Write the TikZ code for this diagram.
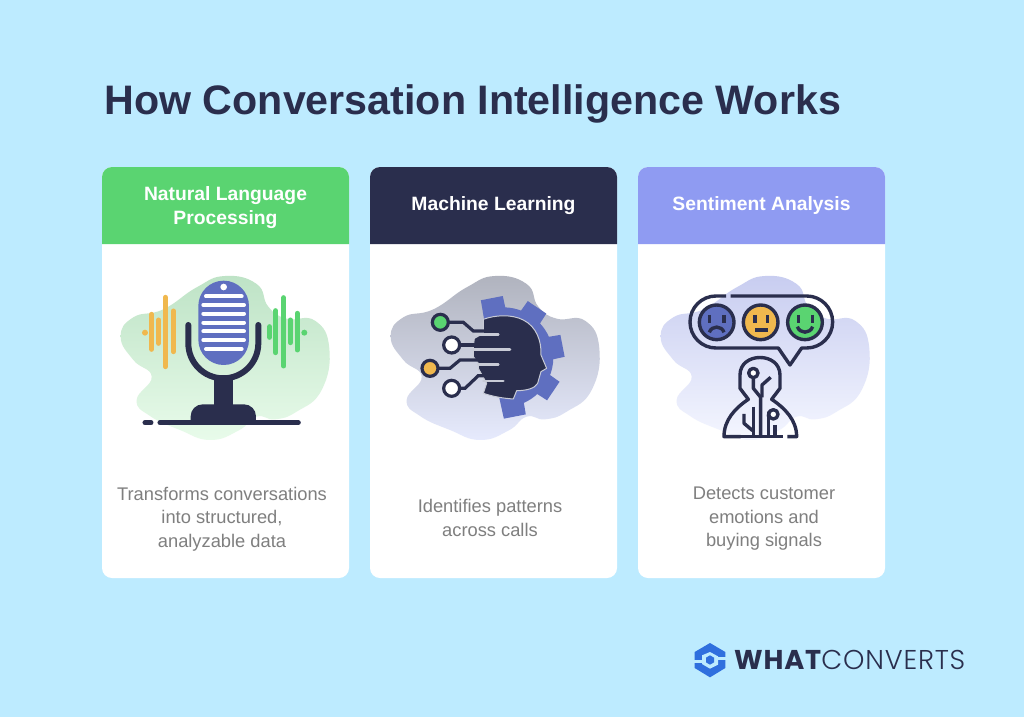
\documentclass[tikz,border=0pt]{standalone}
\usepackage{fontspec}
\setmainfont{Liberation Sans}
\newfontfamily\logofont[LetterSpace=3]{Poppins}
\newfontfamily\logolight[LetterSpace=3]{Poppins Light}
\definecolor{skybg}{HTML}{BDEBFF}
\definecolor{navy}{HTML}{2A2E4D}
\definecolor{leaf}{HTML}{5AD471}
\definecolor{violet}{HTML}{8F9BF2}
\definecolor{indigo}{HTML}{5F6FC0}
\definecolor{amber}{HTML}{F0B84E}
\definecolor{greytext}{HTML}{7F7F7F}
\definecolor{logoblue}{HTML}{2F6FDE}
\definecolor{barlight}{HTML}{C8CBD6}
\def\blobpath{plot[smooth cycle,tension=.8] coordinates {(375,48) (470,72) (505,140) (560,176) (645,182) (688,265) (665,390) (590,455) (525,478) (470,470) (415,512) (330,540) (240,510) (150,468) (110,420) (155,350) (100,300) (62,230) (100,172) (190,148) (290,82)}}
\begin{document}
\begin{tikzpicture}[x=1pt,y=-1pt,
	headtext/.style={text=white,font=\fontsize{19.3}{24}\selectfont\bfseries,align=center},
	bodytext/.style={text=greytext,font=\fontsize{18.3}{23.5}\selectfont,align=center},
	icon/.style={x=.3333pt,y=-.3333pt},
	bar/.style={line width=5pt,line cap=round},
	navyline/.style={draw=navy,line width=3.2pt},
	thinline/.style={draw=navy,line width=3.4pt,line join=round}]
	\useasboundingbox (0,0) rectangle (1024,717);
	\fill[skybg] (0,0) rectangle (1024,717);
	\node[anchor=west,text=navy,font=\fontsize{41.2}{50}\selectfont\bfseries] (title) at (101,104) {How Conversation Intelligence Works};
	\foreach \cardx/\cardcol in {102/leaf,370/navy,638/violet} {
		\fill[white,rounded corners=10pt] (\cardx,167) rectangle (\cardx+247,578);
		\fill[\cardcol] (\cardx,244) [rounded corners=10pt] -- (\cardx,167) -- (\cardx+247,167) [sharp corners] -- (\cardx+247,244) -- cycle;
	}
	\node[headtext] (nlphead) at (225.5,208) {Natural Language\\Processing};
	\node[headtext] (mlhead) at (493.5,206) {Machine Learning};
	\node[headtext] (sahead) at (761.5,206) {Sentiment Analysis};
	\node[bodytext] (nlpbody) at (222,519) {Transforms conversations\\into structured,\\analyzable data};
	\node[bodytext] (mlbody) at (490,518) {Identifies patterns\\across calls};
	\node[bodytext] (sabody) at (764,519) {Detects customer\\emotions and\\buying signals};
	\begin{scope}[shift={(100,260)},icon]
		\shade[top color={rgb,255:red,190;green,227;blue,198},bottom color={rgb,255:red,232;green,251;blue,234}] \blobpath;
		\foreach \barx/\bary/\barz in {155/163/268,176/180/250,196/112/320,220/153/275}
			\draw[amber,bar] (\barx,\bary) -- (\barx,\barz);
		\fill[amber] (135,218) circle (9);
		\foreach \barx/\bary/\barz in {509/200/232,527/152/278,551/113/318,571/180/248,592/160/270}
			\draw[leaf,bar] (\barx,\bary) -- (\barx,\barz);
		\fill[leaf] (613,218) circle (9);
		\fill[indigo,rounded corners=25.3pt] (295,62) rectangle (447,315);
		\fill[white] (371,81) circle (10);
		\foreach \stripy/\stripa/\stripb in {109/318/425,135/310/432,161/310/432,188/310/432,214/310/432,240/310/432,267/318/425}
			\draw[white,line width=4pt,line cap=round] (\stripa,\stripy) -- (\stripb,\stripy);
		\draw[navy,line width=6pt,line cap=round] (265,195) -- (265,250) arc[start angle=180,end angle=0,radius=105] -- (475,195);
		\fill[navy] (341,345) rectangle (398,440);
		\fill[navy] (272,488) [rounded corners=12pt] -- (272,433) -- (468,433) [sharp corners] -- (468,488) -- cycle;
		\draw[navy,line width=5pt,line cap=round] (180,488) -- (595,488);
		\draw[navy,line width=5pt,line cap=round] (135,488) -- (153,488);
	\end{scope}
	\begin{scope}[shift={(370,260)},icon]
		\shade[top color={rgb,255:red,176;green,179;blue,190},bottom color={rgb,255:red,230;green,234;blue,253}] \blobpath;
		\begin{scope}[shift={(400,292)}]
			\fill[indigo] (0,0) -- (-101:150) arc[start angle=-101,end angle=79,radius=150] -- cycle;
			\foreach \tootha in {-101,-56,-11,34,79}
				\fill[indigo] (\tootha-10.5:184) -- (\tootha+10.5:184) -- (\tootha+17:120) -- (\tootha-17:120) -- cycle;
		\end{scope}
		\begin{scope}[shift={(135,120)}]
			\fill[navy,draw=barlight,line width=1pt,line join=round] (205,58) .. controls (240,45) and (290,42) .. (325,60) .. controls (365,80) and (380,125) .. (378,165) -- (395,205) -- (378,215) -- (373,232) -- (368,250) .. controls (360,265) and (335,272) .. (305,272) -- (295,297) .. controls (265,295) and (235,290) .. (205,280) -- (215,250) -- (205,232) -- (190,205) -- (190,190) -- (175,170) -- (175,140) -- (178,115) -- (205,100) -- cycle;
			\foreach \bary/\barx/\barz in {103/180/250,148/175/285,193/190/250,243/205/265}
				\draw[barlight,line width=2.7pt,line cap=round] (\barx,\bary) -- (\barz,\bary);
			\draw[navyline] (98,67) -- (145,67) -- (175,93) -- (215,93);
			\draw[navyline] (132,135) -- (195,135);
			\draw[navyline] (67,205) -- (105,205) -- (135,180) -- (195,180);
			\draw[navyline] (132,265) -- (150,265) -- (190,227) -- (215,227);
			\filldraw[fill=leaf,navyline] (76,67) circle (24);
			\filldraw[fill=white,navyline] (110,135) circle (24);
			\filldraw[fill=amber,navyline] (45,205) circle (24);
			\filldraw[fill=white,navyline] (110,265) circle (24);
		\end{scope}
	\end{scope}
	\begin{scope}[shift={(640,260)},icon]
		\shade[top color={rgb,255:red,200;green,205;blue,240},bottom color={rgb,255:red,244;green,246;blue,255}] \blobpath;
		\draw[thinline] (272,108) -- (500,108) arc[start angle=-90,end angle=90,radius=78] -- (485,264) -- (450,315) -- (415,264) -- (228,264) arc[start angle=90,end angle=270,radius=78] -- (258,108);
		\filldraw[fill=indigo,thinline] (230,187) circle (52);
		\filldraw[fill=amber,thinline] (362,187) circle (52);
		\filldraw[fill=leaf,thinline] (495,187) circle (52);
		\foreach \eyex in {208,252,345,382,475,518}
			\draw[thinline] (\eyex,165) -- (\eyex,190);
		\draw[thinline] (208,217) .. controls (215,196) and (245,196) .. (252,217);
		\draw[thinline] (345,210) -- (385,210);
		\draw[thinline] (472,200) .. controls (480,222) and (510,222) .. (518,200);
		\draw[thinline] (302,530) -- (252,530) .. controls (252,480) and (285,445) .. (325,418) -- (300,385) -- (300,345) .. controls (300,275) and (420,275) .. (420,345) -- (420,385) -- (395,418) .. controls (435,445) and (470,480) .. (470,530) -- (442,530);
		\draw[thinline] (252,530) -- (428,530);
		\draw[thinline] (340,353) -- (340,385) -- (362,412) -- (362,530);
		\draw[thinline] (392,352) -- (366,375) -- (366,412);
		\draw[thinline] (340,440) -- (340,530);
		\draw[thinline] (312,462) -- (312,490) -- (338,512);
		\draw[thinline] (385,462) -- (385,530);
		\draw[thinline] (405,495) -- (405,530);
		\draw[thinline] (387,455) -- (385,470);
		\filldraw[fill=white,thinline] (340,339) circle (14);
		\filldraw[fill=white,thinline] (400,463) circle (14);
	\end{scope}
	\begin{scope}[shift={(688,638)},icon]
		\fill[logoblue] (66,15) -- (112,42) -- (112,90) -- (66,118) -- (20,90) -- (20,42) -- cycle;
		\fill[skybg] (66,42) -- (90,55) -- (90,80) -- (66,92) -- (42,78) -- (42,52) -- cycle;
		\fill[skybg] (88,58) rectangle (116,66);
		\fill[skybg] (16,66) rectangle (44,74);
		\fill[logoblue] (66,52) -- (78,59) -- (78,73) -- (66,80) -- (54,73) -- (54,59) -- cycle;
	\end{scope}
	\node[anchor=west,inner sep=0pt,text=navy,font=\fontsize{27.2}{30}\selectfont] (logotext) at (734,660) {{\logofont\bfseries WHAT}{\logolight CONVERTS}};
\end{tikzpicture}
\end{document}
